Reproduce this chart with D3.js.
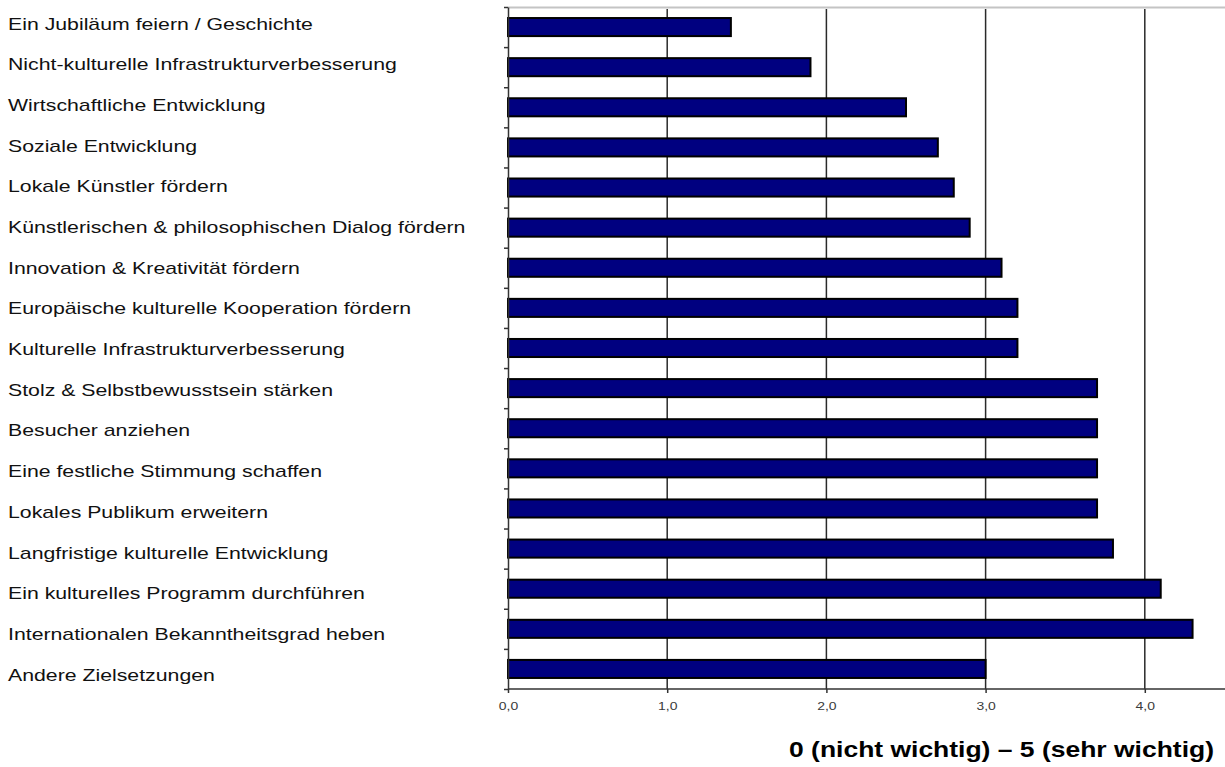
<!DOCTYPE html>
<html>
<head>
<meta charset="utf-8">
<script src="https://cdn.jsdelivr.net/npm/d3@7"></script>
<style>
  html, body { margin: 0; padding: 0; background: #ffffff; }
  svg { display: block; }
  text { font-family: "Liberation Sans", Arial, Helvetica, sans-serif; }
</style>
</head>
<body>
<svg id="chart" width="1225" height="767"></svg>
<script>
// Zielsetzungen (top to bottom) and their mean importance rating
const categories = [
  "Ein Jubiläum feiern / Geschichte",
  "Nicht-kulturelle Infrastrukturverbesserung",
  "Wirtschaftliche Entwicklung",
  "Soziale Entwicklung",
  "Lokale Künstler fördern",
  "Künstlerischen & philosophischen Dialog fördern",
  "Innovation & Kreativität fördern",
  "Europäische kulturelle Kooperation fördern",
  "Kulturelle Infrastrukturverbesserung",
  "Stolz & Selbstbewusstsein stärken",
  "Besucher anziehen",
  "Eine festliche Stimmung schaffen",
  "Lokales Publikum erweitern",
  "Langfristige kulturelle Entwicklung",
  "Ein kulturelles Programm durchführen",
  "Internationalen Bekanntheitsgrad heben",
  "Andere Zielsetzungen"
];
const values = [1.4, 1.9, 2.5, 2.7, 2.8, 2.9, 3.1, 3.2, 3.2, 3.7, 3.7, 3.7, 3.7, 3.8, 4.1, 4.3, 3.0];
const xTicks = [0, 1, 2, 3, 4];
const gridTicks = [1, 2, 3, 4];
const axisTitle = "0 (nicht wichtig) – 5 (sehr wichtig)";

const svg = d3.select("#chart");
const W = 1225;
const stretch = 1.33; // text is drawn horizontally widened

const plotLeft = 508, plotTop = 7, plotBottom = 689;

const x = d3.scaleLinear().domain([0, 4.5]).range([plotLeft, plotLeft + 4.5 * 159.2]);

const y = d3.scaleBand()
  .domain(categories)
  .range([plotTop, plotBottom])
  .paddingInner(0.55)
  .paddingOuter(0.275);

// category labels on the left
const labelY = d3.scalePoint().domain(categories).range([24, 675]);

const deLocale = d3.formatLocale({ decimal: ",", thousands: ".", grouping: [3], currency: ["", " €"] });
const fmt = deLocale.format(".1f");

// top border of the plot area
svg.append("line")
  .attr("x1", plotLeft).attr("x2", W)
  .attr("y1", 7.5).attr("y2", 7.5)
  .attr("stroke", "#c4c4c4").attr("stroke-width", 2);

// vertical grid lines
svg.append("g").selectAll("line")
  .data(gridTicks)
  .join("line")
  .attr("x1", d => x(d)).attr("x2", d => x(d))
  .attr("y1", 9).attr("y2", plotBottom)
  .attr("stroke", "#2a2a2a").attr("stroke-width", 1.5);

// bars
svg.append("g").selectAll("rect")
  .data(categories.map((c, i) => ({ c, v: values[i] })))
  .join("rect")
  .attr("x", x(0))
  .attr("y", d => y(d.c))
  .attr("width", d => x(d.v) - x(0))
  .attr("height", y.bandwidth())
  .attr("fill", "#000080")
  .attr("stroke", "#000000")
  .attr("stroke-width", 2);

// left axis with tick marks between categories
const yIdx = d3.scaleLinear().domain([0, categories.length]).range([plotTop, plotBottom]);
const gy = svg.append("g")
  .attr("transform", `translate(${plotLeft},0)`)
  .call(d3.axisLeft(yIdx).tickValues(d3.range(categories.length + 1)).tickFormat("").tickSize(4).tickSizeOuter(0));
gy.selectAll("path, line").attr("stroke", "#333").attr("stroke-width", 1.5);

// bottom axis
const gx = svg.append("g")
  .attr("transform", `translate(0,${plotBottom})`)
  .call(d3.axisBottom(x).tickValues(xTicks).tickFormat(fmt).tickSize(4).tickSizeOuter(0).tickPadding(10));
gx.select(".domain").attr("d", `M${plotLeft},0H${W}`).attr("stroke", "#333").attr("stroke-width", 1.5);
gx.selectAll(".tick line").attr("stroke", "#333").attr("stroke-width", 1.5);
gx.selectAll(".tick text")
  .attr("font-size", 10.5)
  .attr("fill", "#3a3a3a")
  .attr("font-family", "'Liberation Sans', Arial, sans-serif")
  .attr("transform", `scale(${stretch},1)`);

// category labels
svg.append("g")
  .attr("transform", `scale(${stretch},1)`)
  .selectAll("text")
  .data(categories)
  .join("text")
  .attr("x", 8 / stretch)
  .attr("y", d => labelY(d))
  .attr("dy", "0.35em")
  .attr("font-size", 16)
  .attr("fill", "#111")
  .text(d => d);

// axis title
svg.append("text")
  .attr("x", 1214)
  .attr("y", 757)
  .attr("text-anchor", "end")
  .attr("font-size", 22)
  .attr("font-weight", "bold")
  .attr("fill", "#000")
  .attr("textLength", 425)
  .attr("lengthAdjust", "spacingAndGlyphs")
  .text(axisTitle);
</script>
</body>
</html>
